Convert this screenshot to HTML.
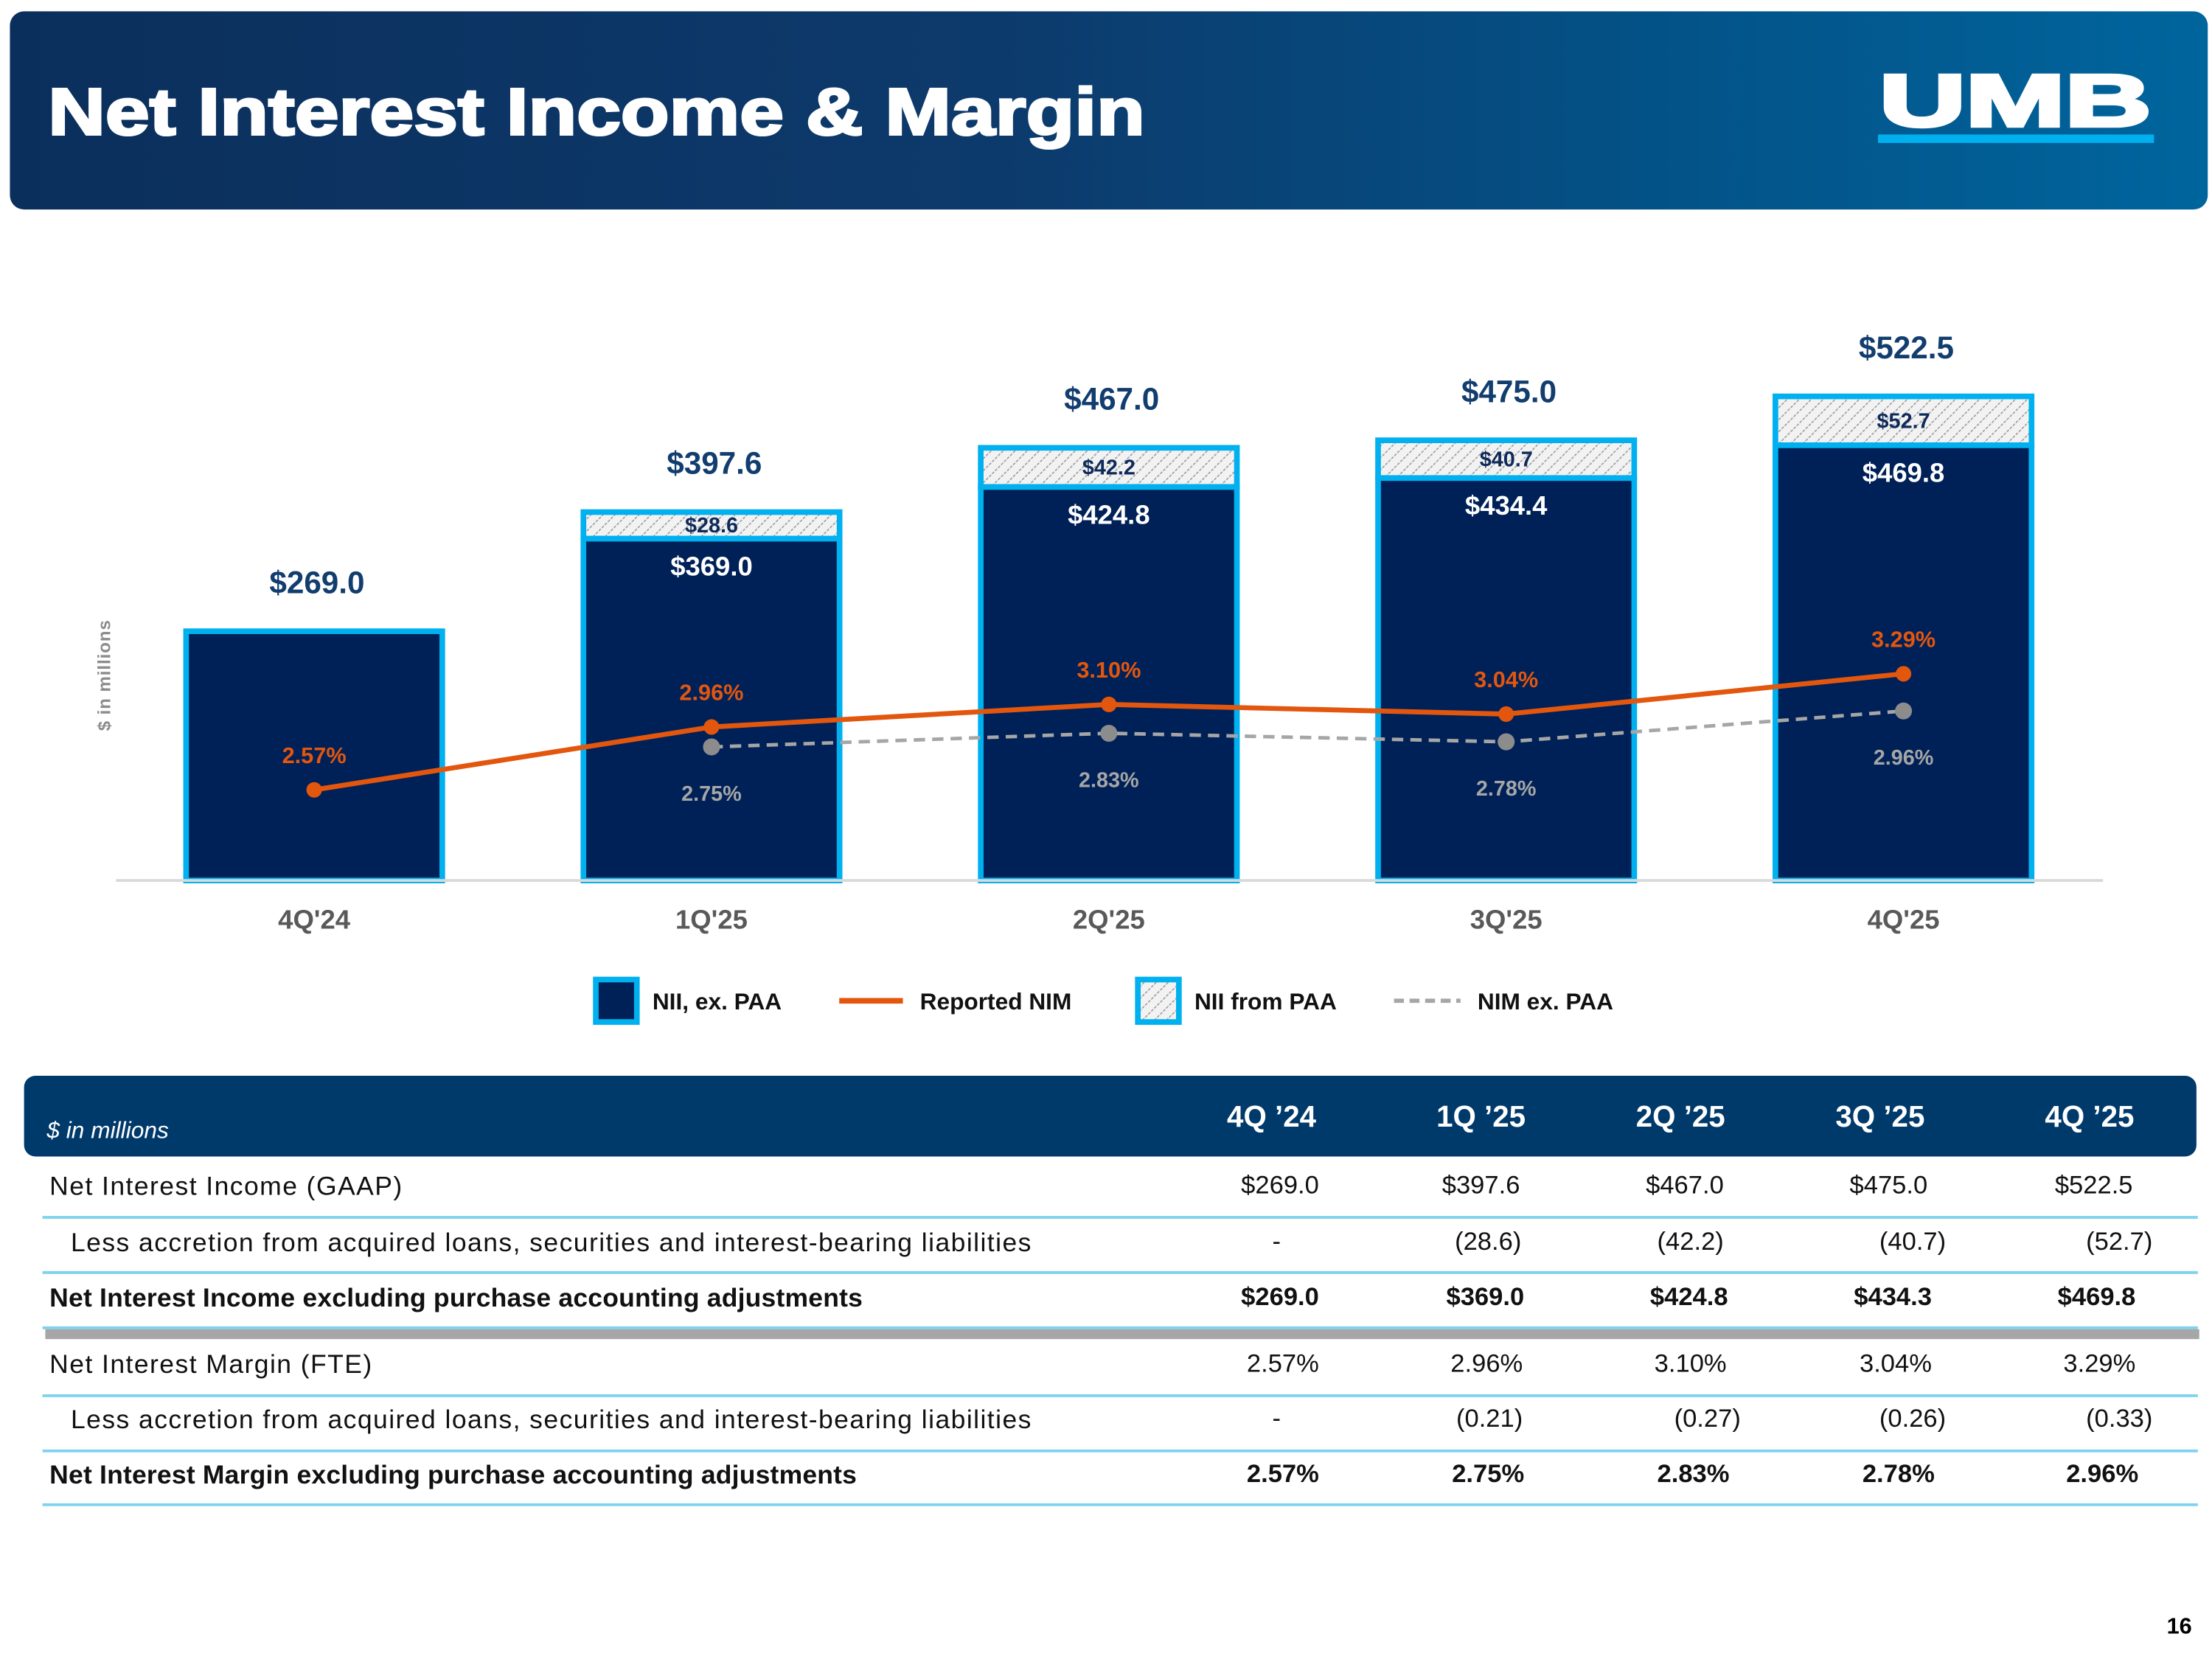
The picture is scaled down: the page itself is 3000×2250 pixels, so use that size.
<!DOCTYPE html>
<html><head><meta charset="utf-8">
<style>
html,body{margin:0;padding:0;background:#fff;}
body{width:3000px;height:2250px;overflow:hidden;position:relative;font-family:"Liberation Sans",Arial,sans-serif;}
#stage{position:absolute;left:0;top:0;width:1563px;height:1172px;transform-origin:0 0;transform:scale(1.91939,1.91980);}
.abs{position:absolute;white-space:nowrap;}
.cell{position:absolute;white-space:nowrap;font-size:18px;color:#111;text-align:right;}
.lbl{position:absolute;white-space:nowrap;font-size:18.5px;letter-spacing:0.75px;color:#111;left:35px;}
.lbl.b{letter-spacing:0.1px;}
.b{font-weight:bold;}
.hl{position:absolute;left:30px;width:1523px;height:2px;background:#7fd3ee;}
.th{position:absolute;color:#fff;font-weight:bold;font-size:21px;white-space:nowrap;text-align:right;}
</style></head>
<body>
<div id="stage">
  <div class="abs" style="left:7px;top:8px;width:1553px;height:140px;border-radius:10px;background:linear-gradient(90deg,#0b2f5c 0%,#0d3a6c 45%,#035287 75%,#00659d 100%);overflow:hidden;">
    <svg class="abs" style="left:0;top:0" width="900" height="140">
      <text x="27" y="87" font-family="Liberation Sans" font-weight="bold" font-size="47" fill="#fff" stroke="#fff" stroke-width="1.6" textLength="775" lengthAdjust="spacingAndGlyphs">Net Interest Income &amp; Margin</text>
    </svg>
    <svg class="abs" style="left:1315px;top:38px" width="215" height="70">
      <text x="6" y="43" font-family="Liberation Sans" font-weight="bold" font-size="52" fill="#fff" stroke="#fff" stroke-width="2.5" textLength="192" lengthAdjust="spacingAndGlyphs">UMB</text>
      <rect x="5" y="49" width="195" height="6" fill="#00b0ef"/>
    </svg>
  </div>

  <svg id="chart" class="abs" style="left:0;top:0" width="1563" height="740">
    <defs>
      <pattern id="hatch" width="6" height="6" patternUnits="userSpaceOnUse" patternTransform="rotate(45)">
        <rect width="6" height="6" fill="#f2f2f2"/>
        <line x1="0" y1="0" x2="0" y2="6" stroke="#9a9a9a" stroke-width="1.6" stroke-dasharray="2 1"/>
      </pattern>
    </defs>
    <text x="78" y="477" transform="rotate(-90 78 477)" text-anchor="middle" font-size="12.5" font-weight="bold" fill="#8c8c8c" letter-spacing="0.5">$ in millions</text>
    <g id="bars"></g>
    <line x1="82" y1="622" x2="1486" y2="622" stroke="#d9d9d9" stroke-width="2"/>
    <g id="lines"></g>
    <g id="labels"></g>
    <g font-size="16.5" font-weight="bold" fill="#111">
      <rect x="419" y="690" width="33" height="34" fill="#00b0ef"/><rect x="423" y="694" width="25" height="26" fill="#002157"/>
      <text x="461" y="713">NII, ex. PAA</text>
      <line x1="593" y1="707" x2="638" y2="707" stroke="#e3560e" stroke-width="4"/>
      <text x="650" y="713">Reported NIM</text>
      <rect x="802" y="690" width="33" height="34" fill="#00b0ef"/><rect x="806" y="694" width="25" height="26" fill="url(#hatch)"/>
      <text x="844" y="713">NII from PAA</text>
      <line x1="985" y1="707" x2="1032" y2="707" stroke="#a6a6a6" stroke-width="3" stroke-dasharray="7 4"/>
      <text x="1044" y="713">NIM ex. PAA</text>
    </g>
  </svg>

  <div class="abs" style="left:17px;top:760px;width:1535px;height:57px;background:#003a6b;border-radius:8px;">
    <div class="abs" style="left:16px;top:30px;font-size:16.5px;font-style:italic;color:#fff;">$ in millions</div>
  </div>
  <div class="th" style="left:830px;width:100px;top:778px">4Q ’24</div>
  <div class="th" style="left:978px;width:100px;top:778px">1Q ’25</div>
  <div class="th" style="left:1119px;width:100px;top:778px">2Q ’25</div>
  <div class="th" style="left:1260px;width:100px;top:778px">3Q ’25</div>
  <div class="th" style="left:1408px;width:100px;top:778px">4Q ’25</div>

  <div>
    <div class="lbl" style="top:827px">Net Interest Income (GAAP)</div>
    <div class="cell" style="right:631px;top:827px">$269.0</div>
    <div class="cell" style="right:489px;top:827px">$397.6</div>
    <div class="cell" style="right:345px;top:827px">$467.0</div>
    <div class="cell" style="right:201px;top:827px">$475.0</div>
    <div class="cell" style="right:56px;top:827px">$522.5</div>
    <div class="hl" style="top:859px"></div>

    <div class="lbl" style="left:50px;top:867px">Less accretion from acquired loans, securities and interest-bearing liabilities</div>
    <div class="cell" style="right:658px;top:867px">-</div>
    <div class="cell" style="right:488px;top:867px">(28.6)</div>
    <div class="cell" style="right:345px;top:867px">(42.2)</div>
    <div class="cell" style="right:188px;top:867px">(40.7)</div>
    <div class="cell" style="right:42px;top:867px">(52.7)</div>
    <div class="hl" style="top:898px"></div>

    <div class="lbl b" style="top:906px">Net Interest Income excluding purchase accounting adjustments</div>
    <div class="cell b" style="right:631px;top:906px">$269.0</div>
    <div class="cell b" style="right:486px;top:906px">$369.0</div>
    <div class="cell b" style="right:342px;top:906px">$424.8</div>
    <div class="cell b" style="right:198px;top:906px">$434.3</div>
    <div class="cell b" style="right:54px;top:906px">$469.8</div>
    <div class="hl" style="top:937px"></div>
    <div class="abs" style="left:32px;top:939px;width:1522px;height:7px;background:#a6a6a6"></div>

    <div class="lbl" style="top:953px">Net Interest Margin (FTE)</div>
    <div class="cell" style="right:631px;top:953px">2.57%</div>
    <div class="cell" style="right:487px;top:953px">2.96%</div>
    <div class="cell" style="right:343px;top:953px">3.10%</div>
    <div class="cell" style="right:198px;top:953px">3.04%</div>
    <div class="cell" style="right:54px;top:953px">3.29%</div>
    <div class="hl" style="top:985px"></div>

    <div class="lbl" style="left:50px;top:992px">Less accretion from acquired loans, securities and interest-bearing liabilities</div>
    <div class="cell" style="right:658px;top:992px">-</div>
    <div class="cell" style="right:487px;top:992px">(0.21)</div>
    <div class="cell" style="right:333px;top:992px">(0.27)</div>
    <div class="cell" style="right:188px;top:992px">(0.26)</div>
    <div class="cell" style="right:42px;top:992px">(0.33)</div>
    <div class="hl" style="top:1024px"></div>

    <div class="lbl b" style="top:1031px">Net Interest Margin excluding purchase accounting adjustments</div>
    <div class="cell b" style="right:631px;top:1031px">2.57%</div>
    <div class="cell b" style="right:486px;top:1031px">2.75%</div>
    <div class="cell b" style="right:341px;top:1031px">2.83%</div>
    <div class="cell b" style="right:196px;top:1031px">2.78%</div>
    <div class="cell b" style="right:52px;top:1031px">2.96%</div>
    <div class="hl" style="top:1062px"></div>
  </div>

  <div class="abs b" style="left:1531px;top:1141px;font-size:16px;">16</div>
</div>

<script>
const categories = ["4Q'24","1Q'25","2Q'25","3Q'25","4Q'25"];
const niiExPaa = [269.0, 369.0, 424.8, 434.4, 469.8];
const niiPaa = [0, 28.6, 42.2, 40.7, 52.7];
const niiTotal = [269.0, 397.6, 467.0, 475.0, 522.5];
const reportedNim = [2.57, 2.96, 3.10, 3.04, 3.29];
const nimExPaa = [null, 2.75, 2.83, 2.78, 2.96];

const NS = "http://www.w3.org/2000/svg";
const baseY = 620, pxPerM = 0.6545;
function xC(i){ return 222 + i * 280.75; }
function yBar(v){ return baseY - v * pxPerM; }
function yNim(v){ return 558 - (v - 2.57) * 113.9; }
function yNimEx(v){ return 518 - (v - 2.83) * 121; }
function mk(tag, attrs, parent){ const e=document.createElementNS(NS,tag); for(const k in attrs) e.setAttribute(k,attrs[k]); parent.appendChild(e); return e; }
function txt(parent, x, y, s, size, fill){ const t=mk('text',{x:x,y:y,'text-anchor':'middle','font-size':size,'font-weight':'bold',fill:fill},parent); t.textContent=s; return t; }

const gB = document.getElementById('bars'), gL = document.getElementById('lines'), gT = document.getElementById('labels');
const bw = 185;
categories.forEach((c,i)=>{
  const x0 = xC(i) - bw/2;
  const yEx = yBar(niiExPaa[i]);
  const r = mk('rect',{x:x0+2,y:yEx+2,width:bw-4,height:baseY-yEx,fill:'#002157',stroke:'#00b0ef','stroke-width':4},gB);
  
  
  if(niiPaa[i]>0){
    const yT = yBar(niiExPaa[i]+niiPaa[i]);
    const h = mk('rect',{x:x0+2,y:yT+2,width:bw-4,height:yEx-yT,fill:'url(#hatch)',stroke:'#00b0ef','stroke-width':4},gB);
    
    
    const ht = txt(gT, xC(i), (yT+yEx)/2+7, '$'+niiPaa[i].toFixed(1), 15, '#0e2a5a');
    
    
    const it = txt(gT, xC(i), yEx+28, '$'+niiExPaa[i].toFixed(1), 19, '#fff');
    
    
  }
  const tt = txt(gT, xC(i)+2, yBar(niiTotal[i])-25, '$'+niiTotal[i].toFixed(1), 22, '#123d6f');
  
  
  const xl = txt(gT, xC(i), 656, c, 19, '#595959');
  
  
});
let d2='';
nimExPaa.forEach((v,i)=>{ if(v!==null) d2 += (d2?'L':'M') + xC(i)+' '+yNimEx(v); });
const pd = mk('path',{d:d2,fill:'none',stroke:'#a6a6a6','stroke-width':2.5,'stroke-dasharray':'8 5'},gL);


nimExPaa.forEach((v,i)=>{ if(v===null) return;
  const c = mk('circle',{cx:xC(i),cy:yNimEx(v),r:6,fill:'#8c8c8c'},gL);
  
  
  const t = txt(gT, xC(i), yNimEx(v)+38, v.toFixed(2)+'%', 15, '#a6a6a6');
  
  
});
let d1='';
reportedNim.forEach((v,i)=>{ d1 += (i?'L':'M') + xC(i)+' '+yNim(v); });
const pl = mk('path',{d:d1,fill:'none',stroke:'#e3560e','stroke-width':3.5},gL);


reportedNim.forEach((v,i)=>{
  const c = mk('circle',{cx:xC(i),cy:yNim(v),r:5.5,fill:'#e3560e'},gL);
  
  
  const t = txt(gT, xC(i), yNim(v)-19, v.toFixed(2)+'%', 16, '#e3560e');
  
  
});
</script>
</body></html>
